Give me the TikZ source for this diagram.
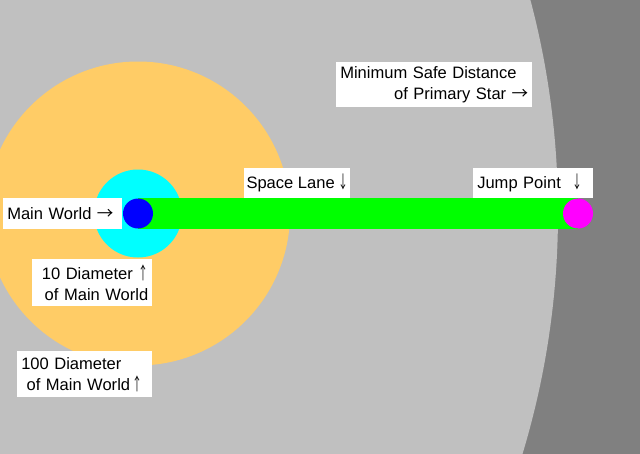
\documentclass[tikz,border=0pt]{standalone}
\usepackage{fontspec}
\setmainfont{Liberation Sans}
\newfontfamily\arrowfont{Noto Sans CJK JP}
\usetikzlibrary{backgrounds}
\newcommand{\rarr}{{\arrowfont →}}
\newcommand{\uarr}{\scalebox{0.6}[1.05]{\arrowfont ↑}}
\newcommand{\darr}{\scalebox{0.6}[1.05]{\arrowfont ↓}}
\definecolor{stargray}{RGB}{128,128,128}
\definecolor{safegray}{RGB}{192,192,192}
\definecolor{zoneorange}{RGB}{255,204,102}
\definecolor{zonecyan}{RGB}{0,255,255}
\definecolor{lanegreen}{RGB}{0,255,0}
\definecolor{jumpmagenta}{RGB}{255,0,255}

\begin{document}
\begin{tikzpicture}[x=0.75pt,y=-0.75pt,
    world/.style={circle,inner sep=0pt,minimum size=22.5pt},
    labelbox/.style={fill=white,anchor=north west,inner xsep=3pt,inner ysep=1pt,
        font=\fontsize{12.4}{15.75}\selectfont}]
    \useasboundingbox (0,0) rectangle (640,454);

    % worlds
    \node[world,fill=blue] (mainworld) at (138,213.5) {};
    \node[world,fill=jumpmagenta] (jumppoint) at (578,213.5) {};

    \begin{scope}[on background layer]
        \clip (0,0) rectangle (640,454);
        \fill[stargray] (0,0) rectangle (640,454);
        % safe distance of the star
        \fill[safegray] (-272,213) circle (830);
        \fill[zoneorange] (mainworld.center) circle (152);
        \fill[zonecyan] (mainworld.center) circle (44);
        % lane
        \draw[lanegreen,line width=23.25pt] (mainworld.center) -- (jumppoint.center);
    \end{scope}

    % labels
    \node[labelbox,text width=83.25pt,minimum height=23.25pt,align=left]
        (mwlabel) at (3,198) {Main World \rarr};
    \node[labelbox,text width=84pt,minimum height=35.25pt,align=right]
        (tenlabel) at (32,259) {10 Diameter \uarr\hspace*{6pt}\\of Main World\hspace*{5pt}};
    \node[labelbox,text width=95.25pt,minimum height=34.5pt,align=left]
        (hundredlabel) at (17,351) {100 Diameter\\\hspace*{4pt}of Main World\,\uarr};
    \node[labelbox,inner xsep=1pt,minimum width=79.5pt,minimum height=22.5pt]
        (lanelabel) at (244,168) {Space Lane\hspace{2.5pt}\darr};
    \node[labelbox,text width=84pt,minimum height=22.5pt,align=left]
        (jumplabel) at (473,168) {Jump Point\hspace{9pt}\darr};
    \node[labelbox,text width=141pt,minimum height=33.75pt,align=left]
        (safelabel) at (336,62) {Minimum Safe Distance\\\hfill of Primary Star \rarr};
\end{tikzpicture}
\end{document}
